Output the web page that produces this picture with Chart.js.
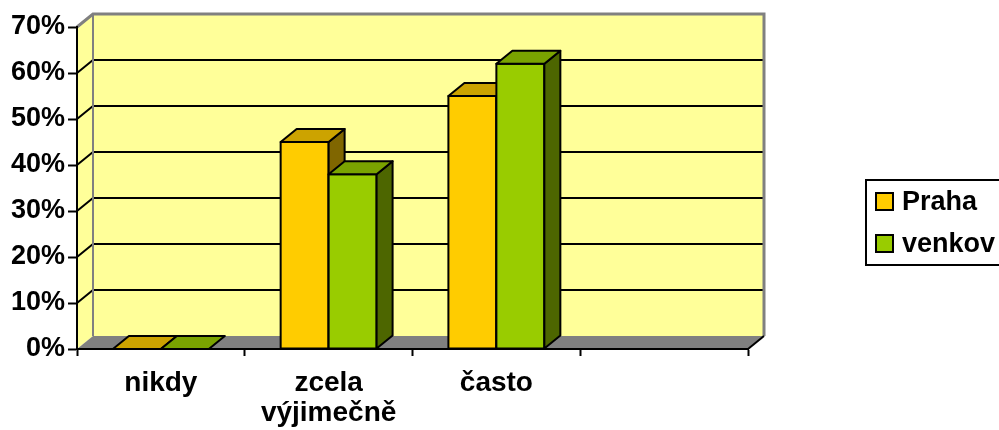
<!DOCTYPE html>
<html>
<head>
<meta charset="utf-8">
<script src="https://cdn.jsdelivr.net/npm/chart.js@4.4.0/dist/chart.umd.min.js"></script>
<style>
    html, body { margin: 0; padding: 0; background: #fff; }
    canvas { display: block; }
</style>
</head>
<body>
<canvas id="chart" width="999" height="430"></canvas>
<script>
const categories = ['nikdy', ['zcela', 'výjimečně'], 'často', ''];
const seriesNames = ['Praha', 'venkov'];
const prahaValues = [0, 45, 55, null];
const venkovValues = [0, 38, 62, null];
const yTicks = [0, 10, 20, 30, 40, 50, 60, 70];

(function () {
    const FAMILY = '"Liberation Sans", Arial, sans-serif';
    const FONT = { family: FAMILY, size: 27, weight: 'bold' };
    const DX = 16;   // depth of the 3d box, to the right
    const DY = 13;   // depth of the 3d box, upwards
    const WALL = '#FFFF99';
    const FLOOR = '#808080';
    const EDGE = '#808080';

    const faces = [
        { front: '#FFCC00', top: '#CCA300', side: '#806600' },
        { front: '#99CC00', top: '#7AA300', side: '#4D6600' },
    ];

    const poly = (ctx, pts, fill, stroke, width) => {
        ctx.beginPath();
        ctx.moveTo(pts[0][0], pts[0][1]);
        for (let i = 1; i < pts.length; i++) {
            ctx.lineTo(pts[i][0], pts[i][1]);
        }
        ctx.closePath();
        if (fill) {
            ctx.fillStyle = fill;
            ctx.fill();
        }
        if (stroke) {
            ctx.strokeStyle = stroke;
            ctx.lineWidth = width || 2;
            ctx.stroke();
        }
    };

    const line = (ctx, pts, color, width) => {
        ctx.beginPath();
        ctx.moveTo(pts[0][0], pts[0][1]);
        for (let i = 1; i < pts.length; i++) {
            ctx.lineTo(pts[i][0], pts[i][1]);
        }
        ctx.strokeStyle = color;
        ctx.lineWidth = width;
        ctx.stroke();
    };

    // back wall, side wall, floor and the grid running across them
    const boxPlugin = {
        id: 'box3d',
        beforeDraw(chart) {
            const ctx = chart.ctx;
            const xs = chart.scales.x;
            const ys = chart.scales.y;
            const L = xs.left;
            const R = xs.right;
            const y0 = ys.getPixelForValue(yTicks[0]);
            const yTop = ys.getPixelForValue(yTicks[yTicks.length - 1]);
            ctx.save();
            poly(ctx, [[L + DX, yTop - DY], [R + DX, yTop - DY], [R + DX, y0 - DY], [L + DX, y0 - DY]], WALL);
            poly(ctx, [[L, yTop], [L + DX, yTop - DY], [L + DX, y0 - DY], [L, y0]], WALL);
            poly(ctx, [[L, y0], [R, y0], [R + DX, y0 - DY], [L + DX, y0 - DY]], FLOOR);
            yTicks.slice(1, -1).forEach((v) => {
                const py = ys.getPixelForValue(v);
                line(ctx, [[L, py], [L + DX, py - DY], [R + DX, py - DY]], '#000', 2);
            });
            line(ctx, [[L, yTop], [L + DX, yTop - DY], [R + DX, yTop - DY], [R + DX, y0 - DY]], EDGE, 3);
            line(ctx, [[L + DX, yTop - DY], [L + DX, y0 - DY]], EDGE, 2);
            line(ctx, [[R, y0], [R + DX, y0 - DY]], '#000', 2);
            ctx.restore();
        },
    };

    // columns drawn as boxes: front, top and right side, series by series
    const columnsPlugin = {
        id: 'columns3d',
        beforeDatasetDraw() {
            return false;
        },
        afterDatasetsDraw(chart) {
            const ctx = chart.ctx;
            ctx.save();
            ctx.lineJoin = 'round';
            const count = chart.data.labels.length;
            for (let i = 0; i < count; i++) {
                chart.data.datasets.forEach((ds, d) => {
                    const el = chart.getDatasetMeta(d).data[i];
                    const v = ds.data[i];
                    if (!el || v === null || v === undefined) {
                        return;
                    }
                    const p = el.getProps(['x', 'y', 'base', 'width'], true);
                    const l = p.x - p.width / 2;
                    const r = p.x + p.width / 2;
                    const t = p.y;
                    const b = p.base;
                    const c = faces[d];
                    if (b - t > 0.5) {
                        poly(ctx, [[l, t], [r, t], [r, b], [l, b]], c.front, '#000', 2);
                        poly(ctx, [[r, t], [r + DX, t - DY], [r + DX, b - DY], [r, b]], c.side, '#000', 2);
                    }
                    poly(ctx, [[l, t], [l + DX, t - DY], [r + DX, t - DY], [r, t]], c.top, '#000', 2);
                });
            }
            ctx.restore();
        },
    };

    const legendPlugin = {
        id: 'boxedLegend',
        afterDraw(chart) {
            const ctx = chart.ctx;
            ctx.save();
            ctx.fillStyle = '#fff';
            ctx.fillRect(866, 180, 140, 85);
            ctx.strokeStyle = '#000';
            ctx.lineWidth = 2;
            ctx.strokeRect(866, 180, 140, 85);
            ctx.font = `${FONT.weight} ${FONT.size}px ${FONT.family}`;
            ctx.textBaseline = 'middle';
            ctx.textAlign = 'left';
            chart.data.datasets.forEach((ds, d) => {
                const cy = 202 + d * 42;
                ctx.fillStyle = ds.backgroundColor;
                ctx.fillRect(876, cy - 9, 17, 17);
                ctx.lineWidth = 2;
                ctx.strokeRect(876, cy - 9, 17, 17);
                ctx.fillStyle = '#000';
                ctx.fillText(ds.label, 902, cy + 1);
            });
            ctx.restore();
        },
    };

    const ctx = document.getElementById('chart').getContext('2d');
    new Chart(ctx, {
        type: 'bar',
        data: {
            labels: categories,
            datasets: [
                { label: seriesNames[0], data: prahaValues, backgroundColor: faces[0].front },
                { label: seriesNames[1], data: venkovValues, backgroundColor: faces[1].front },
            ],
        },
        options: {
            responsive: false,
            animation: false,
            devicePixelRatio: 1,
            layout: { padding: { left: 0, top: 27, right: 251, bottom: 0 } },
            plugins: {
                legend: { display: false },
                tooltip: { enabled: false },
            },
            datasets: {
                bar: { barPercentage: 1, categoryPercentage: 0.572 },
            },
            scales: {
                x: {
                    offset: true,
                    afterFit: (s) => { s.height = 81; },
                    grid: {
                        offset: true,
                        drawOnChartArea: false,
                        tickLength: 7,
                        tickColor: '#000',
                        tickWidth: 2,
                    },
                    border: { color: '#000', width: 2 },
                    ticks: {
                        color: '#000',
                        font: { family: FAMILY, size: 28, weight: 'bold', lineHeight: 1.07 },
                        padding: 12,
                        maxRotation: 0,
                        autoSkip: false,
                    },
                },
                y: {
                    min: yTicks[0],
                    max: yTicks[yTicks.length - 1],
                    afterFit: (s) => { s.width = 77; },
                    grid: {
                        drawOnChartArea: false,
                        tickLength: 9,
                        tickColor: '#000',
                        tickWidth: 2,
                    },
                    border: { color: '#000', width: 2 },
                    ticks: {
                        stepSize: 10,
                        color: '#000',
                        font: FONT,
                        padding: 3,
                        callback: (v) => `${v}%`,
                    },
                },
            },
        },
        plugins: [boxPlugin, columnsPlugin, legendPlugin],
    });
})();
</script>
</body>
</html>
